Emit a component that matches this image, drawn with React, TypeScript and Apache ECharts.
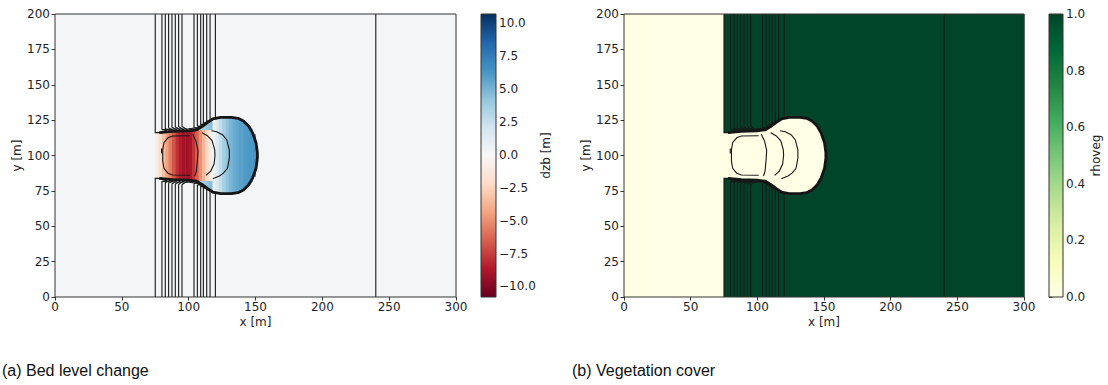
import React, { useEffect, useRef } from "react";
import * as echarts from "echarts";

// ---------- ticks ----------
const xTicks = [0, 50, 100, 150, 200, 250, 300];
const yTicks = [0, 25, 50, 75, 100, 125, 150, 175, 200];
const dzbTicks = [-10, -7.5, -5, -2.5, 0, 2.5, 5, 7.5, 10];
const rhoTicks = [0, 0.2, 0.4, 0.6, 0.8, 1.0];
const dzbRange = [-10.8, 10.7];
const rhoRange = [0, 1];

// ---------- colour maps ----------
const RDBU = ["#67001f", "#b2182b", "#d6604d", "#f4a582", "#fddbc7", "#f7f7f7", "#d1e5f0", "#92c5de", "#4393c3", "#2166ac", "#053061"];
const YLGN = ["#ffffe5", "#f7fcb9", "#d9f0a3", "#addd8e", "#78c679", "#41ab5d", "#238443", "#006837", "#004529"];

// ---------- bed level change (dzb) ----------
const dzbBackground = 0.2;
const colX0 = [75, 77.5, 80, 82.5, 85, 87.5, 90, 92.5, 95, 97.5, 100, 102.5, 105, 107.5, 110, 112.5, 115, 117.5, 120, 122.5, 125, 127.5, 130, 132.5, 135, 137.5, 140, 142.5, 145, 147.5, 150];
const colX1 = [77.5, 80, 82.5, 85, 87.5, 90, 92.5, 95, 97.5, 100, 102.5, 105, 107.5, 110, 112.5, 115, 117.5, 120, 122.5, 125, 127.5, 130, 132.5, 135, 137.5, 140, 142.5, 145, 147.5, 150, 151.5];
const colTop = [116.2, 116.4, 116.6, 116.7, 116.8, 117, 117.1, 117.2, 117.3, 117.4, 117.6, 117.8, 118, 118, 118, 118, 118, 125.9, 126.4, 126.8, 127, 127, 127, 126.8, 126.3, 125.4, 124.1, 122, 119, 115, 104];
const colBottom = [83.8, 83.6, 83.4, 83.3, 83.2, 83, 82.9, 82.8, 82.7, 82.6, 82.4, 82.2, 82, 82, 82, 82, 82, 74.1, 73.6, 73.2, 73, 73, 73, 73.2, 73.7, 74.6, 75.9, 78, 81, 85, 96];
const colDzb = [-0.8, -2.0, -3.3, -4.5, -5.6, -6.8, -7.9, -8.6, -9.0, -9.1, -8.8, -7.8, -6.4, -5.0, -3.6, -2.3, -1.0, 0.5, 1.6, 2.6, 3.6, 4.3, 4.9, 5.3, 5.6, 5.8, 6.0, 6.1, 6.2, 6.3, 6.4];
// [x0, x1, y0, y1, dzb]
const capCells = [
  [105, 107.5, 118, 119.4, 2.5], [107.5, 110, 118, 120.9, 3.2], [110, 112.5, 118, 122.5, 3.8], [112.5, 115, 118, 124.0, 4.2], [115, 117.5, 118, 125.2, 4.5],
  [105, 107.5, 80.6, 82, 2.5], [107.5, 110, 79.1, 82, 3.2], [110, 112.5, 77.5, 82, 3.8], [112.5, 115, 76.0, 82, 4.2], [115, 117.5, 74.8, 82, 4.5],
];

// ---------- vegetation cover (rhoveg) ----------
// [x0, x1, y0, y1, rhoveg]
const rhoCells = [[0, 75, 0, 200, 0], [75, 300, 0, 200, 1]];
const bareValue = 0;

// ---------- blob outline & contours ----------
const blobOutline = [
  [78, 116.2], [88, 117], [100, 117.5], [106, 118.2], [110, 120.4], [114, 123.3], [118, 125.8], [124, 127], [132, 127], [137, 126.3], [141, 124.4], [145, 120.7], [148, 115.6], [150.4, 109], [151.4, 102],
  [151.4, 98], [150.4, 91], [148, 84.4], [145, 79.3], [141, 75.6], [137, 73.7], [132, 73], [124, 73], [118, 74.2], [114, 76.7], [110, 79.6], [106, 81.8], [100, 82.5], [88, 83], [78, 83.8],
];
const bareEdge = [[75, 116.2], [75, 83.8]];

const contourLines = [
  [[75, 200], [75, 116.2], [80, 116.2]],
  [[80, 200], [80, 118.5], [84, 117.3]],
  [[82.5, 200], [82.5, 119], [86.5, 117.5]],
  [[85, 200], [85, 119.5], [89, 117.6]],
  [[87.5, 200], [87.5, 120], [91.5, 117.8]],
  [[90, 200], [90, 120.2], [94, 118]],
  [[92.5, 200], [92.5, 120.4], [96.5, 118]],
  [[95, 200], [95, 120.6], [99, 118.2]],
  [[104, 200], [104, 120], [106.5, 119]],
  [[106.5, 200], [106.5, 121], [109, 120.3]],
  [[109, 200], [109, 122], [111.5, 122]],
  [[111, 200], [111, 123], [113.5, 123.2]],
  [[113.5, 200], [113.5, 124], [116, 124.7]],
  [[116, 200], [116, 125], [118.5, 126]],
  [[120, 200], [120, 126.4]],
  [[75, 0], [75, 83.8], [80, 83.8]],
  [[80, 0], [80, 81.5], [84, 82.7]],
  [[82.5, 0], [82.5, 81], [86.5, 82.5]],
  [[85, 0], [85, 80.5], [89, 82.4]],
  [[87.5, 0], [87.5, 80], [91.5, 82.2]],
  [[90, 0], [90, 79.8], [94, 82]],
  [[92.5, 0], [92.5, 79.6], [96.5, 82]],
  [[95, 0], [95, 79.4], [99, 81.8]],
  [[104, 0], [104, 80], [106.5, 81]],
  [[106.5, 0], [106.5, 79], [109, 79.7]],
  [[109, 0], [109, 78], [111.5, 78]],
  [[111, 0], [111, 77], [113.5, 76.8]],
  [[113.5, 0], [113.5, 76], [116, 75.3]],
  [[116, 0], [116, 75], [118.5, 74]],
  [[120, 0], [120, 73.6]],
  [[240, 0], [240, 200]],
  // dark bands along the erosion edges
  [[80, 118.2], [90, 118.7], [100, 118.9], [106, 119.6], [110, 121.6], [114, 124.3]],
  [[80, 81.8], [90, 81.3], [100, 81.1], [106, 80.4], [110, 78.4], [114, 75.7]],
  // inner contours
  [[101, 114], [88, 113.8], [84.5, 112.5], [81.5, 109], [80.6, 104], [80.6, 96], [81.5, 91], [84.5, 87.5], [88, 86.2], [101, 86]],
  [[103, 115], [105.5, 110], [107, 103.5], [106.5, 96], [105.8, 89], [104.6, 85.5]],
  [[110, 116], [114, 114], [117.5, 110.5], [119.5, 104], [119.7, 100], [119, 94], [116.5, 89], [113, 86]],
  [[117, 117.5], [121, 116.8], [125.5, 114.5], [128.5, 111], [130.4, 104], [130.4, 98], [129, 91], [126, 87.5], [123, 85.5], [118, 83.5]],
  [[79.7, 101.5], [79.7, 105]],
];

const TXT = "#1e1e1e";
const FONT = "DejaVu Sans";

function buildOption() {
  const dzbCells: number[][] = [[0, 300, 0, 200, dzbBackground]];
  colX0.forEach((x0, i) => dzbCells.push([x0, colX1[i], colBottom[i], colTop[i], colDzb[i]]));
  capCells.forEach((c) => dzbCells.push(c));

  const rectItem = (params: any, api: any) => {
    const p0 = api.coord([api.value(0), api.value(3)]);
    const p1 = api.coord([api.value(1), api.value(2)]);
    return {
      type: "rect",
      shape: { x: p0[0], y: p0[1], width: p1[0] - p0[0] + 0.5, height: p1[1] - p0[1] },
      style: { fill: api.visual("color") },
    };
  };
  const lineItem = (width: number) => (params: any, api: any) => {
    const pts = contourLines[api.value(0)].map((p) => api.coord(p));
    return { type: "polyline", shape: { points: pts }, style: { stroke: "#181818", lineWidth: width, fill: "none" } };
  };
  const outlineItem = (params: any, api: any) => ({
    type: "polyline",
    shape: { points: blobOutline.map((p) => api.coord(p)) },
    style: { stroke: "#151515", lineWidth: 2.8, fill: "none", lineJoin: "round" },
  });
  const bareItem = (params: any, api: any) => ({
    type: "polygon",
    shape: { points: [bareEdge[0], ...blobOutline, bareEdge[1]].map((p) => api.coord(p)) },
    style: { fill: YLGN[0] },
  });
  const frameItem = (params: any, api: any) => {
    const p0 = api.coord([0, 200]);
    const p1 = api.coord([300, 0]);
    return { type: "rect", shape: { x: p0[0], y: p0[1], width: p1[0] - p0[0], height: p1[1] - p0[1] }, style: { fill: "none", stroke: "#333", lineWidth: 1 } };
  };
  const barItem = (colors: string[], lo: number, hi: number) => (params: any, api: any) => {
    const p0 = api.coord([0, hi]);
    const p1 = api.coord([1, lo]);
    return {
      type: "rect",
      shape: { x: p0[0], y: p0[1], width: p1[0] - p0[0], height: p1[1] - p0[1] },
      style: {
        fill: new echarts.graphic.LinearGradient(0, 1, 0, 0, colors.map((c, i) => ({ offset: i / (colors.length - 1), color: c }))),
        stroke: "#333",
        lineWidth: 1,
      },
    };
  };

  const plotX = (gridIndex: number) => ({
    type: "value", gridIndex, min: xTicks[0], max: xTicks[xTicks.length - 1], interval: 50,
    axisLine: { show: false },
    axisTick: { show: true, inside: false, length: 3.5, lineStyle: { color: "#333" } },
    axisLabel: { fontSize: 12, color: TXT, margin: 4, fontFamily: FONT },
    splitLine: { show: false },
  });
  const plotY = (gridIndex: number) => ({
    type: "value", gridIndex, min: yTicks[0], max: yTicks[yTicks.length - 1], interval: 25,
    axisLine: { show: false },
    axisTick: { show: true, inside: false, length: 3.5, lineStyle: { color: "#333" } },
    axisLabel: { fontSize: 12, color: TXT, margin: 5, fontFamily: FONT },
    splitLine: { show: false },
  });
  const cbX = (gridIndex: number) => ({ type: "value", gridIndex, min: 0, max: 1, show: false });
  const fmt = (v: number) => (v < 0 ? "\u2212" : "") + Math.abs(v).toFixed(1);
  const cbY = (gridIndex: number, range: number[], ticks: number[]) => ({
    type: "value", gridIndex, position: "right", min: range[0], max: range[1],
    axisLine: { show: false },
    axisTick: { show: true, inside: false, length: 3.5, customValues: ticks, lineStyle: { color: "#333" } },
    axisLabel: { fontSize: 12, color: TXT, margin: 3, fontFamily: FONT, customValues: ticks, formatter: fmt },
    splitLine: { show: false },
  });

  const txt = (text: string, x: number, y: number, opts: any = {}) => ({
    type: "text", x, y, rotation: opts.rotation || 0,
    style: { text, fill: opts.fill || TXT, font: opts.font || `12px ${FONT}`, textAlign: opts.align || "center", textVerticalAlign: "middle" },
  });

  return {
    animation: false,
    grid: [
      { left: 55, top: 14, width: 401, height: 283 },
      { left: 481, top: 14, width: 15, height: 283 },
      { left: 624, top: 14, width: 400, height: 283 },
      { left: 1049, top: 14, width: 14, height: 283 },
    ],
    xAxis: [plotX(0), cbX(1), plotX(2), cbX(3)],
    yAxis: [plotY(0), cbY(1, dzbRange, dzbTicks), plotY(2), cbY(3, rhoRange, rhoTicks)],
    visualMap: [
      { type: "continuous", show: false, seriesIndex: 0, dimension: 4, min: dzbRange[0], max: dzbRange[1], inRange: { color: RDBU } },
      { type: "continuous", show: false, seriesIndex: 5, dimension: 4, min: rhoRange[0], max: rhoRange[1], inRange: { color: YLGN } },
    ],
    series: [
      { type: "custom", xAxisIndex: 0, yAxisIndex: 0, renderItem: rectItem, data: dzbCells, z: 1 },
      { type: "custom", xAxisIndex: 0, yAxisIndex: 0, renderItem: lineItem(1.1), data: contourLines.map((_, i) => [i]), z: 3 },
      { type: "custom", xAxisIndex: 0, yAxisIndex: 0, renderItem: outlineItem, data: [[0]], z: 4 },
      { type: "custom", xAxisIndex: 0, yAxisIndex: 0, renderItem: frameItem, data: [[0]], z: 5 },
      { type: "custom", xAxisIndex: 1, yAxisIndex: 1, renderItem: barItem(RDBU, dzbRange[0], dzbRange[1]), data: [[0]], z: 2 },
      { type: "custom", xAxisIndex: 2, yAxisIndex: 2, renderItem: rectItem, data: rhoCells, z: 1 },
      { type: "custom", xAxisIndex: 2, yAxisIndex: 2, renderItem: bareItem, data: [[bareValue]], z: 2 },
      { type: "custom", xAxisIndex: 2, yAxisIndex: 2, renderItem: lineItem(1.1), data: contourLines.map((_, i) => [i]), z: 3 },
      { type: "custom", xAxisIndex: 2, yAxisIndex: 2, renderItem: outlineItem, data: [[0]], z: 4 },
      { type: "custom", xAxisIndex: 2, yAxisIndex: 2, renderItem: frameItem, data: [[0]], z: 5 },
      { type: "custom", xAxisIndex: 3, yAxisIndex: 3, renderItem: barItem(YLGN, rhoRange[0], rhoRange[1]), data: [[0]], z: 2 },
    ],
    graphic: [
      txt("x [m]", 255.5, 322),
      txt("y [m]", 17, 155.5, { rotation: Math.PI / 2 }),
      txt("dzb [m]", 546, 155.5, { rotation: Math.PI / 2 }),
      txt("x [m]", 824, 322),
      txt("y [m]", 586, 155.5, { rotation: Math.PI / 2 }),
      txt("rhoveg", 1096, 155.5, { rotation: Math.PI / 2 }),
      txt("(a) Bed level change", 2, 370, { align: "left", font: "16px 'Liberation Sans', Arial, sans-serif", fill: "#111" }),
      txt("(b) Vegetation cover", 572, 370, { align: "left", font: "16px 'Liberation Sans', Arial, sans-serif", fill: "#111" }),
    ],
  };
}

export default function App() {
  const ref = useRef<HTMLDivElement>(null);
  useEffect(() => {
    const chart = echarts.init(ref.current as HTMLDivElement, null, { renderer: "svg" });
    chart.setOption(buildOption() as any);
    return () => chart.dispose();
  }, []);
  return <div ref={ref} style={{ position: "fixed", left: 0, top: 0, width: 1108, height: 385, background: "#fff" }} />;
}
